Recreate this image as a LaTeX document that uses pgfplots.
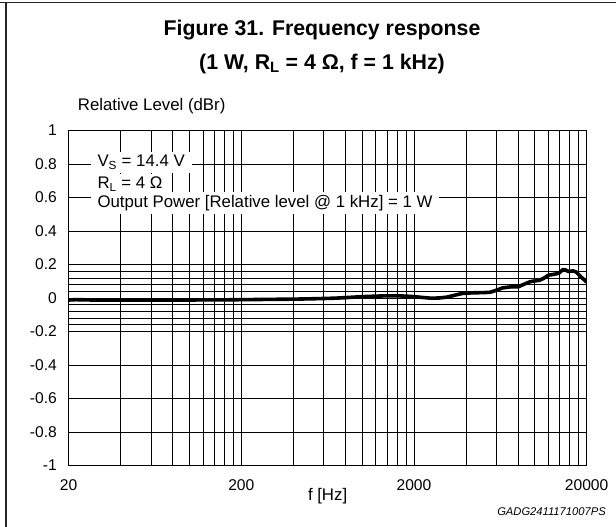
\documentclass[border=0pt]{standalone}
\usepackage{fontspec}
\setmainfont{Liberation Sans}
\usepackage{pgfplots}
\pgfplotsset{compat=1.18}
\begin{document}
\begin{tikzpicture}[x=1pt,y=1pt]
\path[use as bounding box] (0,0) rectangle (616,527);
\draw[line width=1.8pt,black!85] (0,524.5) -- (616,524.5);
\draw[line width=1.8pt,black!85] (6.2,524.5) -- (6.2,0);
\node[anchor=base,inner sep=0pt,font=\fontsize{21.3}{25}\selectfont\bfseries] at (322,491.3) {Figure 31. Frequency response};
\node[anchor=base,inner sep=0pt,font=\fontsize{21.3}{25}\selectfont\bfseries] at (322,457.8) {(1 W, R\textsubscript{L} = 4 Ω, f = 1 kHz)};
\node[anchor=base west,inner sep=0pt,font=\fontsize{16.8}{20}\selectfont] at (77.7,416) {Relative Level (dBr)};
\begin{axis}[
  at={(68.6pt,61.5pt)}, anchor=south west,
  scale only axis, width=518pt, height=335pt,
  xmode=log, log basis x=10,
  xmin=20, xmax=20000, ymin=-1, ymax=1,
  xtick={20,200,2000,20000},
  xticklabels={20,200,2000,20000},
  minor xtick={40,60,80,100,120,140,160,180,400,600,800,1000,1200,1400,1600,1800,4000,6000,8000,10000,12000,14000,16000,18000},
  ytick={-1,-0.8,-0.6,-0.4,-0.2,0,0.2,0.4,0.6,0.8,1},
  yticklabels={-1,-0.8,-0.6,-0.4,-0.2,0,0.2,0.4,0.6,0.8,1},
  extra y ticks={-0.16,-0.12,-0.08,-0.04,0.04,0.08,0.12,0.16},
  extra y tick labels={},
  extra y tick style={grid=major, major tick length=0pt},
  xmajorgrids, xminorgrids, ymajorgrids,
  major tick length=0pt, minor tick length=0pt,
  grid style={black, line width=0.75pt},
  major grid style={black, line width=0.75pt},
  minor grid style={black, line width=0.75pt},
  axis line style={black, line width=1.5pt},
  tick label style={font=\fontsize{15.6}{18}\selectfont},
  y tick label style={inner sep=0pt, xshift=-11.6pt},
  x tick label style={inner sep=0pt, yshift=-13.8pt},
  xlabel={f [Hz]},
  xlabel style={font=\fontsize{16.8}{20}\selectfont, at={(axis description cs:0.5,0)}, anchor=base, inner sep=0pt, yshift=-35pt},
  clip=true,
]
\addplot[black, line width=3.6pt, line join=round] coordinates {
(20,-0.012) (22,-0.010) (25,-0.011) (30,-0.013) (35,-0.012) (40,-0.012)
(50,-0.013) (60,-0.012) (80,-0.012) (100,-0.012) (130,-0.011) (160,-0.011)
(200,-0.010) (250,-0.009) (300,-0.008) (400,-0.007) (500,-0.005) (600,-0.003)
(700,-0.001) (800,0.002) (1000,0.008) (1200,0.011) (1400,0.013) (1600,0.013)
(1800,0.011) (2000,0.008) (2200,0.004) (2500,-0.001) (2800,0.000) (3100,0.005)
(3400,0.015) (3800,0.027) (4400,0.031) (5000,0.032) (5500,0.034) (6000,0.046)
(6500,0.060) (7200,0.066) (8000,0.066) (8500,0.078) (9400,0.097) (10000,0.102)
(10700,0.106) (11300,0.118) (12000,0.136) (13000,0.142) (13800,0.148) (14600,0.170)
(15200,0.166) (15700,0.158) (16700,0.162) (17400,0.155) (18300,0.132) (19200,0.112)
(20000,0.095)
};
\end{axis}
\begin{scope}[every node/.style={anchor=base west, fill=white, inner xsep=7pt, inner ysep=3.5pt, font=\fontsize{16.8}{20}\selectfont}]
\node at (90.3,360.3) {V\textsubscript{S} = 14.4 V};
\node at (90.3,338.2) {R\textsubscript{L} = 4 Ω};
\node at (90.3,319.5) {Output Power [Relative level @ 1 kHz] = 1 W};
\end{scope}
\node[anchor=base east,inner sep=0pt,font=\fontsize{11.2}{13}\selectfont\itshape] at (606,11) {GADG2411171007PS};
\end{tikzpicture}
\end{document}
